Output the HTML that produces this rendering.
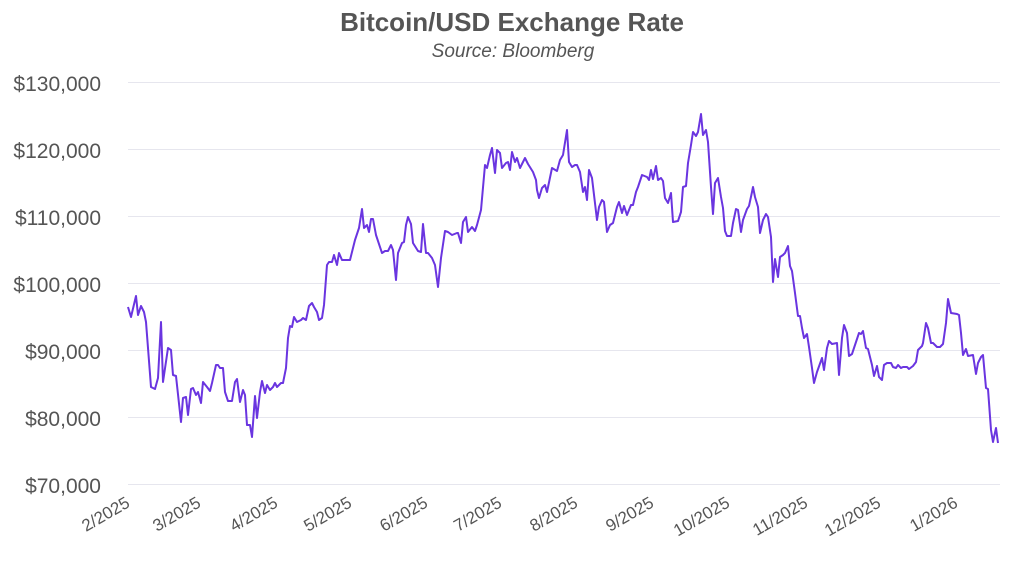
<!DOCTYPE html>
<html><head><meta charset="utf-8"><style>
body{margin:0;background:#fff;}
svg{display:block;font-family:"Liberation Sans",sans-serif;}
</style></head><body>
<svg width="1024" height="567" viewBox="0 0 1024 567">
<text x="512" y="31" text-anchor="middle" font-size="26" font-weight="bold" fill="#555">Bitcoin/USD Exchange Rate</text>
<text x="513" y="57" text-anchor="middle" font-size="19" font-style="italic" fill="#555">Source: Bloomberg</text>
<g stroke="#e6e6ee" stroke-width="1">
<line x1="128" x2="1000" y1="82.5" y2="82.5"/>
<line x1="128" x2="1000" y1="149.5" y2="149.5"/>
<line x1="128" x2="1000" y1="216.5" y2="216.5"/>
<line x1="128" x2="1000" y1="283.5" y2="283.5"/>
<line x1="128" x2="1000" y1="350.5" y2="350.5"/>
<line x1="128" x2="1000" y1="417.5" y2="417.5"/>
<line x1="128" x2="1000" y1="484.5" y2="484.5"/>
</g>
<g font-size="21" fill="#555" text-anchor="end">
<text x="101" y="91">$130,000</text>
<text x="101" y="158">$120,000</text>
<text x="101" y="225">$110,000</text>
<text x="101" y="292">$100,000</text>
<text x="101" y="359">$90,000</text>
<text x="101" y="426">$80,000</text>
<text x="101" y="493">$70,000</text>
</g>
<g font-size="17" fill="#555" text-anchor="end">
<text transform="translate(131,506) rotate(-30)">2/2025</text>
<text transform="translate(202,506) rotate(-30)">3/2025</text>
<text transform="translate(279,506) rotate(-30)">4/2025</text>
<text transform="translate(353,506) rotate(-30)">5/2025</text>
<text transform="translate(429,506) rotate(-30)">6/2025</text>
<text transform="translate(503,506) rotate(-30)">7/2025</text>
<text transform="translate(579,506) rotate(-30)">8/2025</text>
<text transform="translate(655,506) rotate(-30)">9/2025</text>
<text transform="translate(731,506) rotate(-30)">10/2025</text>
<text transform="translate(809,506) rotate(-30)">11/2025</text>
<text transform="translate(882,506) rotate(-30)">12/2025</text>
<text transform="translate(959,506) rotate(-30)">1/2026</text>
</g>
<polyline fill="none" stroke="#6a35e0" stroke-width="2" stroke-linejoin="round" points="128,307 131,317 136,296 138,315 141,306 144,312 146,322 151,387 155,389 158,378 161,322 163,382 168,348 171,350 173,375 176,376 181,422 183,398 186,397 188,415 191,389 193,388 196,395 198,392 201,403 203,382 207,387 210,391 212,383 216,365 218,365 220,368 223,368 225,392 228,401 232,401 235,382 237,379 240,402 243,390 245,395 247,425 250,425 252,437 255,396 257,418 260,392 262,381 265,393 267,385 270,390 273,387 275,383 277,387 281,383 283,383 286,368 288,338 290,326 292,327 294,317 297,322 301,320 303,318 306,320 309,306 312,303 314,307 317,312 319,320 322,318 324,305 327,265 329,262 332,262 334,255 337,265 339,253 342,260 347,260 350,260 355,240 359,228 362,209 364,228 367,225 369,232 371,219 373,219 376,235 382,253 385,251 388,251 391,245 393,250 396,280 398,253 402,243 404,242 406,225 408,217 411,224 413,243 418,251 421,252 423,224 426,253 428,253 432,258 435,265 438,287 441,258 445,231 448,232 452,235 457,233 458,233 461,243 463,222 466,217 468,232 472,227 475,231 477,225 481,210 485,165 487,168 490,155 492,148 495,173 497,150 500,153 502,168 506,163 508,162 510,170 512,152 515,162 517,158 520,168 525,158 528,164 533,172 536,180 537,190 539,198 542,188 545,185 547,192 552,168 557,171 560,160 563,155 567,130 569,162 572,167 575,165 577,165 580,172 583,192 585,187 587,200 589,170 592,178 597,220 599,207 602,200 604,202 607,232 610,225 613,223 617,207 619,202 622,213 624,206 627,215 631,205 633,205 636,192 638,187 642,175 647,177 649,180 651,170 653,179 656,166 658,180 661,178 663,181 665,198 668,203 671,193 673,222 678,221 681,212 683,187 686,186 688,163 691,145 693,132 696,136 698,132 701,114 703,135 706,130 708,142 711,187 713,214 715,183 718,178 721,197 723,208 725,231 727,236 731,236 733,223 736,209 738,210 741,232 743,220 747,209 749,206 752,192 753,187 755,197 758,207 760,233 763,220 766,214 768,217 771,237 773,282 775,259 778,277 780,257 783,255 785,253 788,246 790,266 792,271 795,293 798,316 800,316 802,328 804,338 807,334 809,347 812,368 814,383 817,372 822,358 824,370 827,348 829,341 832,344 837,343 839,375 842,338 844,325 847,333 849,356 852,354 855,345 859,333 861,334 863,331 866,348 868,349 872,365 874,376 877,366 879,377 882,380 884,365 887,363 891,363 893,367 896,368 898,365 901,368 903,367 907,367 909,369 913,366 916,362 918,350 922,346 923,343 926,323 928,328 931,343 933,343 937,347 940,347 943,344 946,323 948,299 951,313 957,314 959,315 961,333 963,355 966,349 968,356 973,355 976,374 978,363 981,357 983,355 986,388 988,389 991,430 993,442 996,428 998,443"/>
</svg>
</body></html>
